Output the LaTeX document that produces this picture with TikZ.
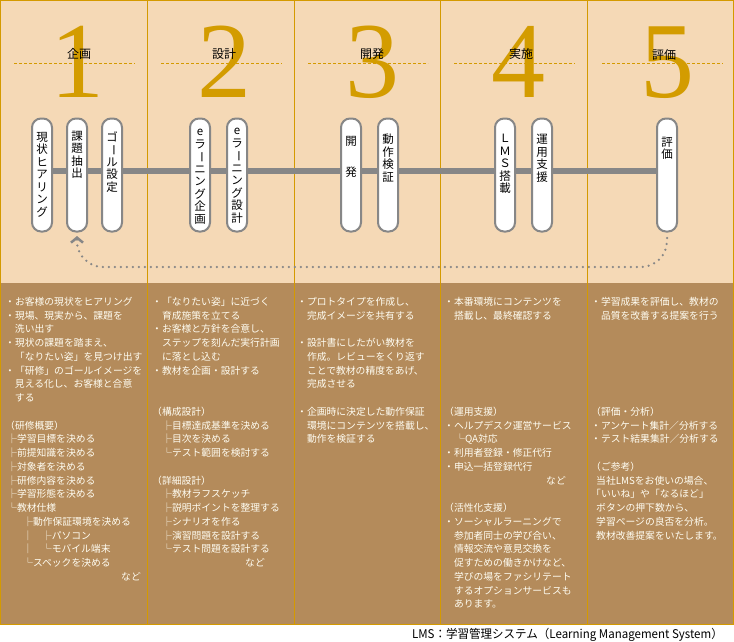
\documentclass[tikz,border=0pt]{standalone}
\usepackage{fontspec}
\setmainfont{Noto Sans CJK JP}
\newfontfamily\numfont{Liberation Serif}
\usetikzlibrary{arrows.meta}
\definecolor{topbg}{HTML}{F5D9B6}
\definecolor{botbg}{HTML}{B48B5B}
\definecolor{gold}{HTML}{D49A00}
\definecolor{numc}{HTML}{D39C00}
\definecolor{pillgray}{HTML}{878787}
\definecolor{txtw}{HTML}{FFFDF2}
\newcommand{\vbar}{\raisebox{0.1em}{\rotatebox[origin=c]{-90}{ー}}}
\tikzset{
 pill/.style={draw=pillgray, line width=2pt, fill=white, rounded corners=9pt, minimum width=20pt, minimum height=113pt, inner sep=0pt},
 vtext/.style={anchor=north, inner sep=0pt, align=center, font=\fontsize{11.5}{12.5}\selectfont},
 bignum/.style={anchor=base, inner sep=0pt, text=numc, font=\numfont\fontsize{108}{108}\selectfont},
 stagelbl/.style={inner sep=0pt, font=\fontsize{12}{12}\selectfont},
 guide/.style={draw=gold, line width=0.8pt, dash pattern=on 3pt off 2pt},
 divider/.style={draw=gold, line width=1pt},
 coltext/.style={anchor=north west, inner sep=0pt, align=left, text=txtw, font=\fontsize{9.8}{13.75}\selectfont},
 loopback/.style={draw=pillgray, line width=2.5pt, dash pattern=on 0pt off 6pt, line cap=round, rounded corners=26pt, -{Straight Barb[length=5pt,width=12pt,line width=2.5pt]}},
 mainbar/.style={draw=pillgray, line width=6pt},
}
\begin{document}
\begin{tikzpicture}[x=1pt,y=-1pt]
\useasboundingbox (0,0) rectangle (734,642);
\fill[white] (0,0) rectangle (734,642);
\fill[topbg] (0,0) rectangle (734,283);
\fill[botbg] (0,283) rectangle (734,625);
% dividers and frame
\foreach \x in {147,294,440,587} \draw[divider] (\x,0) -- (\x,625);
\draw[divider] (0.5,0.5) rectangle (733.5,624.5);
% big numerals
\node[bignum] (n1) at (77,97) {1};
\node[bignum] (n2) at (224,97) {2};
\node[bignum] (n3) at (372,97) {3};
\node[bignum] (n4) at (518,97) {4};
\node[bignum] (n5) at (667,97) {5};
% dashed guides
\draw[guide] (14,63) -- (135,63);
\draw[guide] (161,63) -- (282,63);
\draw[guide] (308,63) -- (428,63);
\draw[guide] (454,63) -- (575,63);
\draw[guide] (602,63) -- (723,63);
% stage labels
\node[stagelbl] (l1) at (79,54) {企画};
\node[stagelbl] (l2) at (224,54) {設計};
\node[stagelbl] (l3) at (372,54) {開発};
\node[stagelbl] (l4) at (521,54) {実施};
\node[stagelbl] (l5) at (664,55) {評価};
% main bar
\coordinate (b1) at (42,171);
\coordinate (b2) at (667,171);
\draw[mainbar] (b1) -- (b2);
% pills
\node[pill] (p1) at (42,175) {};
\node[pill] (p2) at (77,175) {};
\node[pill] (p3) at (112,175) {};
\node[pill] (p4) at (200,175) {};
\node[pill] (p5) at (237,175) {};
\node[pill] (p6) at (351,175) {};
\node[pill] (p7) at (388,175) {};
\node[pill] (p8) at (505,175) {};
\node[pill] (p9) at (542,175) {};
\node[pill] (p10) at (667,175) {};
% pill texts
\node[vtext] (t1) at (42,132) {現\\状\\ヒ\\ア\\リ\\ン\\グ};
\node[vtext] (t2) at (77,131) {課\\題\\抽\\出};
\node[vtext] (t3) at (112,131) {ゴ\\\vbar\\ル\\設\\定};
\node[vtext] (t4) at (200,129) {e\\ラ\\\vbar\\ニ\\ン\\グ\\企\\画};
\node[vtext] (t5) at (237,128) {e\\ラ\\\vbar\\ニ\\ン\\グ\\設\\計};
\node[vtext] (t6) at (351,136) {開\\[19pt]発};
\node[vtext] (t7) at (388,134) {動\\作\\検\\証};
\node[vtext] (t8) at (505,134) {Ｌ\\Ｍ\\Ｓ\\搭\\載};
\node[vtext] (t9) at (542,134) {運\\用\\支\\援};
\node[vtext] (t10) at (667,137) {評\\価};
% loop-back arrow
\coordinate (d1) at (667,238);
\coordinate (d2) at (77,236);
\draw[loopback] (d1) -- ++(0,29) -| (d2);
% column texts
\node[coltext] (c1) at (5,297) {・お客様の現状をヒアリング\\
・現場、現実から、課題を\\
\hspace*{1em}洗い出す\\
・現状の課題を踏まえ、\\
\hspace*{1em}「なりたい姿」を見つけ出す\\
・「研修」のゴールイメージを\\
\hspace*{1em}見える化し、お客様と合意\\
\hspace*{1em}する\\
\mbox{}\\
（研修概要）\\
\hspace*{2pt}├学習目標を決める\\
\hspace*{2pt}├前提知識を決める\\
\hspace*{2pt}├対象者を決める\\
\hspace*{2pt}├研修内容を決める\\
\hspace*{2pt}├学習形態を決める\\
\hspace*{2pt}└教材仕様\\
\hspace*{18pt}├動作保証環境を決める\\
\hspace*{18pt}｜\hspace*{9pt}├パソコン\\
\hspace*{18pt}｜\hspace*{9pt}└モバイル端末\\
\hspace*{18pt}└スペックを決める\\
\hspace*{116pt}など};
\node[coltext] (c2) at (152,297) {・「なりたい姿」に近づく\\
\hspace*{1em}育成施策を立てる\\
・お客様と方針を合意し、\\
\hspace*{1em}ステップを刻んだ実行計画\\
\hspace*{1em}に落とし込む\\
・教材を企画・設計する\\
\mbox{}\\
\mbox{}\\
（構成設計）\\
\hspace*{10pt}├目標達成基準を決める\\
\hspace*{10pt}├目次を決める\\
\hspace*{10pt}└テスト範囲を検討する\\
\mbox{}\\
（詳細設計）\\
\hspace*{10pt}├教材ラフスケッチ\\
\hspace*{10pt}├説明ポイントを整理する\\
\hspace*{10pt}├シナリオを作る\\
\hspace*{10pt}├演習問題を設計する\\
\hspace*{10pt}└テスト問題を設計する\\
\hspace*{93pt}など};
\node[coltext] (c3) at (297,297) {・プロトタイプを作成し、\\
\hspace*{1em}完成イメージを共有する\\
\mbox{}\\
・設計書にしたがい教材を\\
\hspace*{1em}作成。レビューをくり返す\\
\hspace*{1em}ことで教材の精度をあげ、\\
\hspace*{1em}完成させる\\
\mbox{}\\
・企画時に決定した動作保証\\
\hspace*{1em}環境にコンテンツを搭載し、\\
\hspace*{1em}動作を検証する};
\node[coltext] (c4) at (444,297) {・本番環境にコンテンツを\\
\hspace*{1em}搭載し、最終確認する\\
\mbox{}\\
\mbox{}\\
\mbox{}\\
\mbox{}\\
\mbox{}\\
\mbox{}\\
（運用支援）\\
・ヘルプデスク運営サービス\\
\hspace*{11pt}└QA対応\\
・利用者登録・修正代行\\
・申込一括登録代行\\
\hspace*{102pt}など\\
\mbox{}\\
（活性化支援）\\
・ソーシャルラーニングで\\
\hspace*{1em}参加者同士の学び合い、\\
\hspace*{1em}情報交流や意見交換を\\
\hspace*{1em}促すための働きかけなど、\\
\hspace*{1em}学びの場をファシリテート\\
\hspace*{1em}するオプションサービスも\\
\hspace*{1em}あります。};
\node[coltext] (c5) at (591,297) {・学習成果を評価し、教材の\\
\hspace*{1em}品質を改善する提案を行う\\
\mbox{}\\
\mbox{}\\
\mbox{}\\
\mbox{}\\
\mbox{}\\
\mbox{}\\
（評価・分析）\\
・アンケート集計／分析する\\
・テスト結果集計／分析する\\
\mbox{}\\
（ご参考）\\
\hspace*{5pt}当社LMSをお使いの場合、\\
「いいね」や「なるほど」\\
\hspace*{5pt}ボタンの押下数から、\\
\hspace*{5pt}学習ページの良否を分析。\\
\hspace*{5pt}教材改善提案をいたします。};
% caption
\node[anchor=base east, inner sep=0pt, font=\fontsize{12}{12}\selectfont] (cap) at (723,638) {\scalebox{0.96}[1]{LMS：学習管理システム（Learning Management System）}};
\end{tikzpicture}
\end{document}
